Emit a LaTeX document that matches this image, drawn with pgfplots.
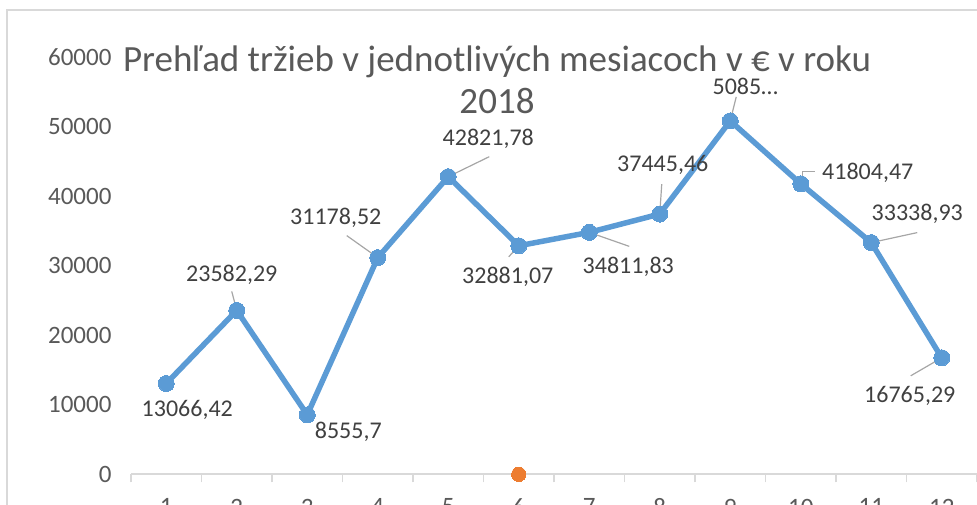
\documentclass[border=0pt]{standalone}
\usepackage{fontspec}
\setmainfont{Carlito}
\usepackage{pgfplots}
\pgfplotsset{compat=1.18}
\definecolor{lineblue}{HTML}{5B9BD5}
\definecolor{dotorange}{HTML}{ED7D31}
\definecolor{axgray}{HTML}{D9D9D9}
\definecolor{labgray}{HTML}{595959}
\definecolor{datgray}{HTML}{404040}
\definecolor{leadgray}{HTML}{A6A6A6}
\tikzset{
  lab/.style={font=\fontsize{24}{28}\selectfont, text=datgray, inner sep=0pt},
  lead/.style={leadgray, line width=1.2pt},
}
\begin{document}
\begin{tikzpicture}[x=1pt,y=1pt]
\useasboundingbox (0,0) rectangle (977,504);
\draw[axgray, line width=1.3pt] (7,-20) -- (7,494) -- (1000,494);
\begin{axis}[
  at={(131pt,29.7pt)}, anchor=south west,
  scale only axis, width=846pt, height=417pt,
  xmin=0.5, xmax=12.5, ymin=0, ymax=60000,
  axis lines*=left,
  y axis line style={draw=none},
  x axis line style={axgray, line width=1.8pt},
  xtick={1,...,12},
  minor xtick={0.5,1.5,...,12.5},
  ytick={0,10000,...,60000},
  major tick length=0pt,
  minor tick length=8pt,
  tick align=outside,
  tick style={axgray, line width=1.5pt},
  scaled y ticks=false,
  /pgf/number format/.cd, 1000 sep={}, assume math mode=true, /pgfplots/.cd,
  xticklabel={\pgfmathprintnumber{\tick}},
  yticklabel={\pgfmathprintnumber{\tick}},
  tick label style={font=\fontsize{25}{29}\selectfont, text=labgray},
  yticklabel style={xshift=-16pt},
  xticklabel style={yshift=-21pt},
  clip=false,
]
\addplot[lineblue, line width=5.5pt, line join=round, mark=*, mark size=8pt,
  mark options={fill=lineblue, draw=lineblue, line width=0pt}] coordinates {
  (1,13066.42) (2,23582.29) (3,8555.7) (4,31178.52) (5,42821.78) (6,32881.07)
  (7,34811.83) (8,37445.46) (9,50850) (10,41804.47) (11,33338.93) (12,16765.29)};
\addplot[only marks, mark=*, mark size=7.2pt, dotorange,
  mark options={fill=dotorange, draw=dotorange, line width=0pt}] coordinates {(6,0)};
% leader lines
\draw[lead] ([shift={(-5pt,19pt)}]axis cs:2,23582.29) -- (axis cs:2,23582.29);
\draw[lead] ([shift={(-31pt,22pt)}]axis cs:4,31178.52) -- (axis cs:4,31178.52);
\draw[lead] ([shift={(41pt,20pt)}]axis cs:5,42821.78) -- (axis cs:5,42821.78);
\draw[lead] ([shift={(-10pt,-11pt)}]axis cs:6,32881.07) -- (axis cs:6,32881.07);
\draw[lead] ([shift={(40pt,-14pt)}]axis cs:7,34811.83) -- (axis cs:7,34811.83);
\draw[lead] ([shift={(2pt,30pt)}]axis cs:8,37445.46) -- (axis cs:8,37445.46);
\draw[lead] ([shift={(6pt,24pt)}]axis cs:9,50850) -- (axis cs:9,50850);
\draw[lead] ([shift={(14pt,12pt)}]axis cs:10,41804.47) -- ([shift={(2pt,12pt)}]axis cs:10,41804.47) -- ([shift={(2pt,0pt)}]axis cs:10,41804.47);
\draw[lead] ([shift={(46pt,10pt)}]axis cs:11,33338.93) -- (axis cs:11,33338.93);
\draw[lead] ([shift={(-31pt,-18pt)}]axis cs:12,16765.29) -- (axis cs:12,16765.29);
% data labels
\node[lab, xshift=21pt, yshift=-26pt] at (axis cs:1,13066.42) {13066,42};
\node[lab, xshift=-5pt, yshift=36pt] at (axis cs:2,23582.29) {23582,29};
\node[lab, xshift=41pt, yshift=-17pt] at (axis cs:3,8555.7) {8555,7};
\node[lab, xshift=-42pt, yshift=40pt] at (axis cs:4,31178.52) {31178,52};
\node[lab, xshift=40pt, yshift=38pt] at (axis cs:5,42821.78) {42821,78};
\node[lab, xshift=-11pt, yshift=-31pt] at (axis cs:6,32881.07) {32881,07};
\node[lab, xshift=39pt, yshift=-34pt] at (axis cs:7,34811.83) {34811,83};
\node[lab, xshift=3pt, yshift=49pt] at (axis cs:8,37445.46) {37445,46};
\node[lab, xshift=15pt, yshift=34pt] at (axis cs:9,50850) {5085…};
\node[lab, xshift=67pt, yshift=11pt] at (axis cs:10,41804.47) {41804,47};
\node[lab, xshift=46pt, yshift=29pt] at (axis cs:11,33338.93) {33338,93};
\node[lab, xshift=-32pt, yshift=-38pt] at (axis cs:12,16765.29) {16765,29};
\end{axis}
\node[align=center, font=\fontsize{37}{42}\selectfont, text=labgray, inner sep=0pt] at (497,424) {Prehľad tržieb v jednotlivých mesiacoch v € v roku\\2018};
\end{tikzpicture}
\end{document}
